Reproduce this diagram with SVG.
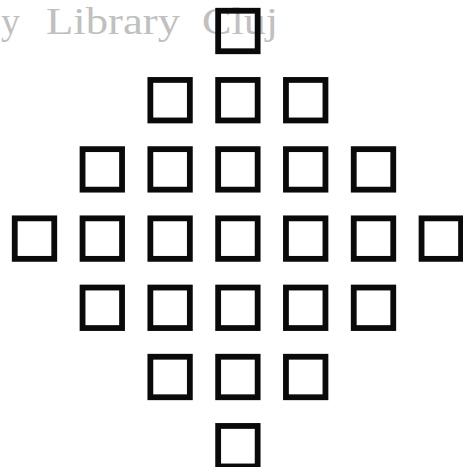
<svg xmlns="http://www.w3.org/2000/svg" width="463" height="467" viewBox="0 0 463 467">
<style>
.sq{fill:none;stroke:#0a0a0a;stroke-width:5.8}
.wm{font-family:"Liberation Serif","Times New Roman",serif;font-size:38px;fill:#c0c0c0}
</style>
<rect width="463" height="467" fill="#ffffff"/>
<g id="watermark">
<text class="wm" x="1" y="34">y</text>
<text class="wm" x="46" y="34" textLength="134" lengthAdjust="spacingAndGlyphs">Library</text>
<text class="wm" x="202" y="34" textLength="76" lengthAdjust="spacingAndGlyphs">Cluj</text>
</g>
<g id="connectors"/>
<g id="r0c3"><rect class="sq" x="218.15" y="10.75" width="39.5" height="40.5"/></g>
<g id="r1c2"><rect class="sq" x="150.35" y="79.95" width="39.5" height="40.5"/></g>
<g id="r1c3"><rect class="sq" x="218.15" y="79.95" width="39.5" height="40.5"/></g>
<g id="r1c4"><rect class="sq" x="285.95" y="79.95" width="39.5" height="40.5"/></g>
<g id="r2c1"><rect class="sq" x="82.55" y="149.15" width="39.5" height="40.5"/></g>
<g id="r2c2"><rect class="sq" x="150.35" y="149.15" width="39.5" height="40.5"/></g>
<g id="r2c3"><rect class="sq" x="218.15" y="149.15" width="39.5" height="40.5"/></g>
<g id="r2c4"><rect class="sq" x="285.95" y="149.15" width="39.5" height="40.5"/></g>
<g id="r2c5"><rect class="sq" x="353.75" y="149.15" width="39.5" height="40.5"/></g>
<g id="r3c0"><rect class="sq" x="14.75" y="218.35" width="39.5" height="40.5"/></g>
<g id="r3c1"><rect class="sq" x="82.55" y="218.35" width="39.5" height="40.5"/></g>
<g id="r3c2"><rect class="sq" x="150.35" y="218.35" width="39.5" height="40.5"/></g>
<g id="r3c3"><rect class="sq" x="218.15" y="218.35" width="39.5" height="40.5"/></g>
<g id="r3c4"><rect class="sq" x="285.95" y="218.35" width="39.5" height="40.5"/></g>
<g id="r3c5"><rect class="sq" x="353.75" y="218.35" width="39.5" height="40.5"/></g>
<g id="r3c6"><rect class="sq" x="421.55" y="218.35" width="39.5" height="40.5"/></g>
<g id="r4c1"><rect class="sq" x="82.55" y="287.55" width="39.5" height="40.5"/></g>
<g id="r4c2"><rect class="sq" x="150.35" y="287.55" width="39.5" height="40.5"/></g>
<g id="r4c3"><rect class="sq" x="218.15" y="287.55" width="39.5" height="40.5"/></g>
<g id="r4c4"><rect class="sq" x="285.95" y="287.55" width="39.5" height="40.5"/></g>
<g id="r4c5"><rect class="sq" x="353.75" y="287.55" width="39.5" height="40.5"/></g>
<g id="r5c2"><rect class="sq" x="150.35" y="356.75" width="39.5" height="40.5"/></g>
<g id="r5c3"><rect class="sq" x="218.15" y="356.75" width="39.5" height="40.5"/></g>
<g id="r5c4"><rect class="sq" x="285.95" y="356.75" width="39.5" height="40.5"/></g>
<g id="r6c3"><rect class="sq" x="218.15" y="425.95" width="39.5" height="40.5"/></g>
</svg>
